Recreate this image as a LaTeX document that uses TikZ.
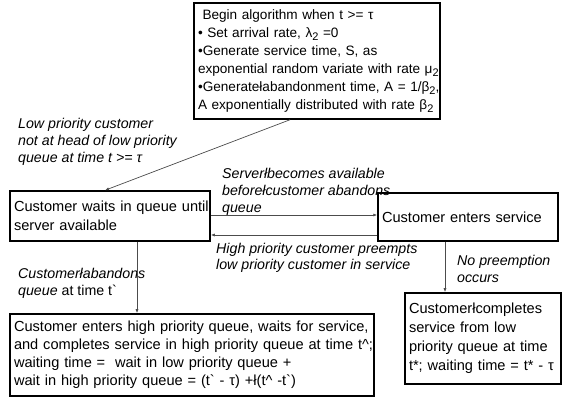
\documentclass[tikz,border=0pt]{standalone}
\usepackage{fontspec}
\setmainfont{Liberation Sans}
\usepackage{tikz}
\usetikzlibrary{arrows.meta,positioning}

\newcommand{\lowsub}[1]{\raisebox{-0.45ex}{\fontsize{11}{11}\selectfont #1}}
\newcommand{\grv}{\textasciigrave}

\begin{document}
\begin{tikzpicture}[
    x=1pt, y=-1pt,
    box/.style={rectangle, draw, line width=1.5pt, inner xsep=4pt, inner ysep=3pt, align=left,
                font=\fontsize{14.6}{18}\selectfont},
    lbl/.style={inner sep=0pt, align=left, anchor=north west,
                font=\fontsize{14.2}{17}\selectfont\itshape},
    arrow/.style={-{Latex[length=4pt,width=3pt]}, black!70, line width=0.7pt}
]
    \useasboundingbox (0,0) rectangle (565,403);

    % Start of algorithm
    \node[box, font=\fontsize{13.6}{18}\selectfont, text width=238pt, minimum height=116pt] (start) at (317,61)
        {\mbox{\ Begin algorithm when t >= τ}\\
         \mbox{\textbullet\ Set arrival rate, λ\lowsub{2} =0}\\
         \mbox{\textbullet Generate service time, S, as}\\
         \mbox{exponential random variate with rate μ\lowsub{2}}\\
         \mbox{\textbullet Generatełabandonment time, A = 1/β\lowsub{2},}\\
         \mbox{A exponentially distributed with rate β\lowsub{2}}};

    % Low priority queue
    \node[box, font=\fontsize{14.6}{19}\selectfont, text width=192pt, minimum height=50pt] (wait) at (110,216)
        {\mbox{Customer waits in queue until}\\server available};

    % Service
    \node[box, text width=172pt, minimum height=48pt] (service) at (468,217)
        {\mbox{Customer enters service}};

    % Outcomes
    \node[box, text width=356pt, minimum height=82pt] (high) at (192,355)
        {\mbox{Customer enters high priority queue, waits for service,}\\
         \mbox{and completes service in high priority queue at time t\^{};}\\
         waiting time =\ \ wait in low priority queue +\\
         \mbox{wait in high priority queue = (t\grv{} - τ) +ł(t\^{} -t\grv)}};
    \node[box, font=\fontsize{14.6}{19}\selectfont, text width=148pt, minimum height=91pt] (done) at (483,338.5)
        {\mbox{Customerłcompletes}\\service from low\\\mbox{priority queue at time}\\\mbox{t*; waiting time = t* - τ}};

    % Labels
    \node[lbl] (lowlbl) at (18,118) {Low priority customer\\not at head of low priority\\queue at time t >= τ};
    \node[lbl] (srvlbl) at (222,168) {Serverłbecomes available\\beforełcustomer abandons\\queue};
    \node[lbl, font=\fontsize{14.2}{16}\selectfont\itshape] (hplbl) at (216,243) {High priority customer preempts\\low priority customer in service};
    \node[lbl] (noplbl) at (457,255) {No preemption\\occurs};
    \node[lbl] (abnlbl) at (18,268) {Customerłabandons\\queue {\upshape at time t\grv}};

    % Arrows
    \draw[arrow] ([xshift=-27pt]start.south) -- ([xshift=-5pt]wait.north);
    \draw[arrow] ([yshift=1pt]wait.east) -- ([yshift=2pt]service.west);
    \draw[arrow] ([yshift=-18pt]service.west) -- ([yshift=-19pt]wait.east);
    \draw[arrow] ([xshift=27pt]wait.south) -- ([xshift=27pt]wait.south |- high.north);
    \draw[arrow] ([xshift=-23pt]service.south) -- ([xshift=-23pt]service.south |- done.north);
\end{tikzpicture}
\end{document}
